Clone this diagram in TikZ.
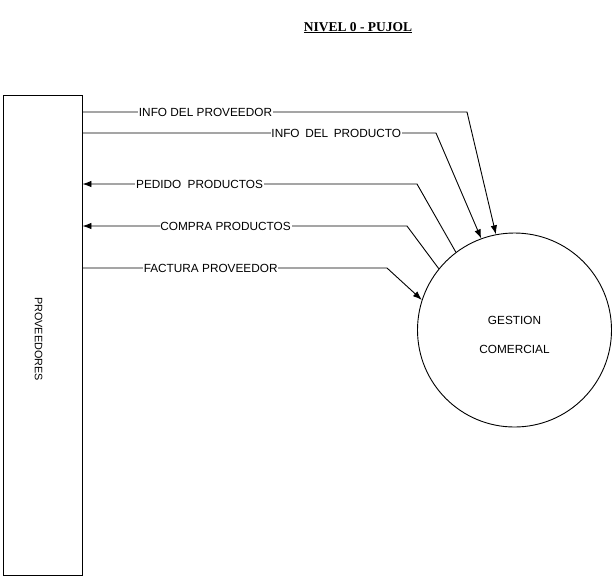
\documentclass[tikz,border=0pt]{standalone}
\usepackage{fontspec}
\setmainfont{Liberation Sans}
\newfontfamily\titlefont{Liberation Serif}
\usetikzlibrary{arrows.meta,calc}
\tikzset{
  flow/.style={line width=0.9pt, black},
  arr/.style={flow, -{Latex[length=9pt,width=6.5pt]}},
  lbl/.style={fill=white, inner sep=0.8pt, font=\fontsize{11.8}{14}\selectfont},
  ctext/.style={inner sep=0pt, font=\fontsize{11.8}{14}\selectfont},
  entity/.style={draw, line width=0.9pt, minimum width=79pt, minimum height=480pt, inner sep=0pt},
  process/.style={draw, circle, line width=0.9pt, minimum size=194pt, inner sep=0pt},
}
\begin{document}
\begin{tikzpicture}[x=1pt,y=-1pt]
\useasboundingbox (0,0) rectangle (615,579);
\node[anchor=base, inner sep=0pt, font=\titlefont\bfseries\fontsize{13.5}{16}\selectfont] (title) at (358,31) {\underline{NIVEL 0 - PUJOL}};
\node[entity] (prov) at (42.5,335) {};
\node[ctext, font=\fontsize{10.8}{13}\selectfont] (provlbl) at (38.5,339) {\rotatebox{-90}{PROVEEDORES}};
\node[process] (gc) at (514.5,330) {};
\node[ctext] (g1) at ([yshift=10pt]gc.center) {GESTION};
\node[ctext] (g2) at ([yshift=-19pt]gc.center) {COMERCIAL};
% 1
\coordinate (c1) at (467,112);
\draw[arr] (prov.east |- 0,112) -- node[lbl, pos=0.32] (l1) {INFO DEL PROVEEDOR} (c1) -- (gc.101);
% 2
\coordinate (c2) at (436,133);
\draw[arr] (prov.east |- 0,133) -- node[lbl, pos=0.718] (l2) {INFO\hspace{5.6pt}DEL\hspace{5.6pt}PRODUCTO} (c2) -- (gc.110);
% 3
\coordinate (c3) at (417,184);
\draw[arr] (gc.127.5) -- (c3) -- node[lbl, pos=0.65] (l3) {PEDIDO\hspace{6.3pt}PRODUCTOS} (prov.east |- 0,184);
% 4
\coordinate (c4) at (407,226);
\draw[arr] (gc.141) -- (c4) -- node[lbl, pos=0.559] (l4) {COMPRA PRODUCTOS} (prov.east |- 0,226);
% 5
\coordinate (c5) at (387,268);
\draw[arr] (prov.east |- 0,268) -- node[lbl, pos=0.421] (l5) {FACTURA PROVEEDOR} (c5) -- (gc.162);
\end{tikzpicture}
\end{document}
